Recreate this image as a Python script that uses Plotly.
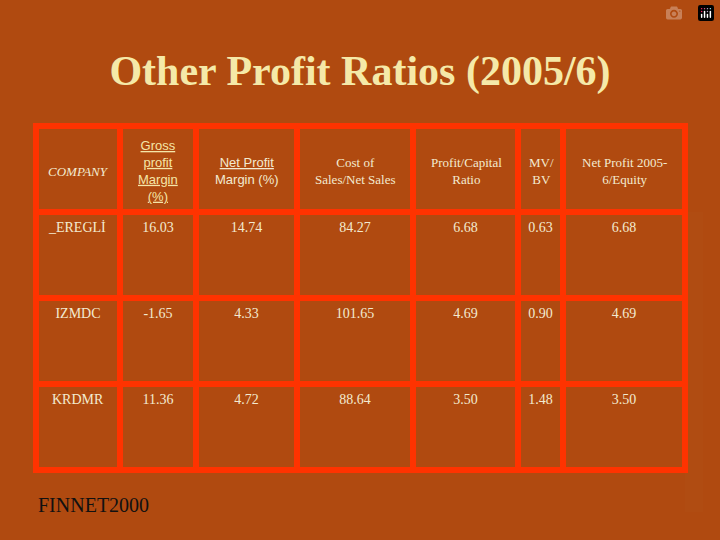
import plotly.graph_objects as go

headers = ["<i>COMPANY</i>",
           "<u>Gross</u><br><u>profit</u><br><u>Margin</u><br><u>(%)</u>",
           "<u>Net Profit</u><br>Margin (%)",
           "Cost of<br>Sales/Net Sales",
           "Profit/Capital<br>Ratio",
           "MV/<br>BV",
           "Net Profit 2005-<br>6/Equity"]
companies = ["_EREGLİ", "IZMDC", "KRDMR"]
gross = ["16.03", "-1.65", "11.36"]
net_margin = ["14.74", "4.33", "4.72"]
cost_sales = ["84.27", "101.65", "88.64"]
profit_capital = ["6.68", "4.69", "3.50"]
mvbv = ["0.63", "0.90", "1.48"]
net_equity = ["6.68", "4.69", "3.50"]
col_widths = [84, 76, 101, 116, 105, 45, 122]

bg = "#b04a10"
border = "#ff3300"
txt = "#f3ead0"

pad = lambda col: ["<br>" + v for v in col]

fig = go.Figure(go.Table(
    columnwidth=col_widths,
    domain=dict(x=[36/720, 686/720], y=[0.05, 1-126/540]),
    header=dict(
        values=[""] * len(headers),
        height=86,
        fill_color="rgba(0,0,0,0)",
        line=dict(color=border, width=6),
    ),
    cells=dict(
        values=[pad(c) for c in [companies, gross, net_margin, cost_sales, profit_capital, mvbv, net_equity]],
        height=86,
        fill_color="rgba(0,0,0,0)",
        line=dict(color=border, width=6),
        align="center",
        font=dict(family="Liberation Serif", size=14, color=txt),
    ),
))

total = sum(col_widths)
x0, x1 = 36/720, 686/720
annotations = []
cum = 0
for i, (h, w) in enumerate(zip(headers, col_widths)):
    center = x0 + (cum + w/2) / total * (x1 - x0)
    cum += w
    sans = i in (1, 2)
    annotations.append(dict(
        text=h, x=center, y=1-171/540, xref="paper", yref="paper",
        xanchor="center", yanchor="middle", align="center", showarrow=False,
        font=dict(family="Liberation Sans" if sans else "Liberation Serif",
                  size=13, color="#f5e6a8" if i == 1 else txt)))
annotations.append(dict(text="FINNET2000", x=36/720, y=1-505/540, xref="paper", yref="paper",
                        xanchor="left", yanchor="middle", showarrow=False,
                        font=dict(family="Liberation Serif", size=20, color="#111111")))

fig.update_layout(
    width=720, height=540,
    margin=dict(l=0, r=0, t=0, b=0),
    paper_bgcolor=bg, plot_bgcolor=bg,
    title=dict(text="<b>Other Profit Ratios (2005/6)</b>", x=0.5, xanchor="center",
               y=1-70/540, yanchor="middle",
               font=dict(family="Liberation Serif", size=42, color="#f5e9a8")),
    annotations=annotations,
)

fig.write_html("out.html", post_script="document.body.style.margin='0';")
